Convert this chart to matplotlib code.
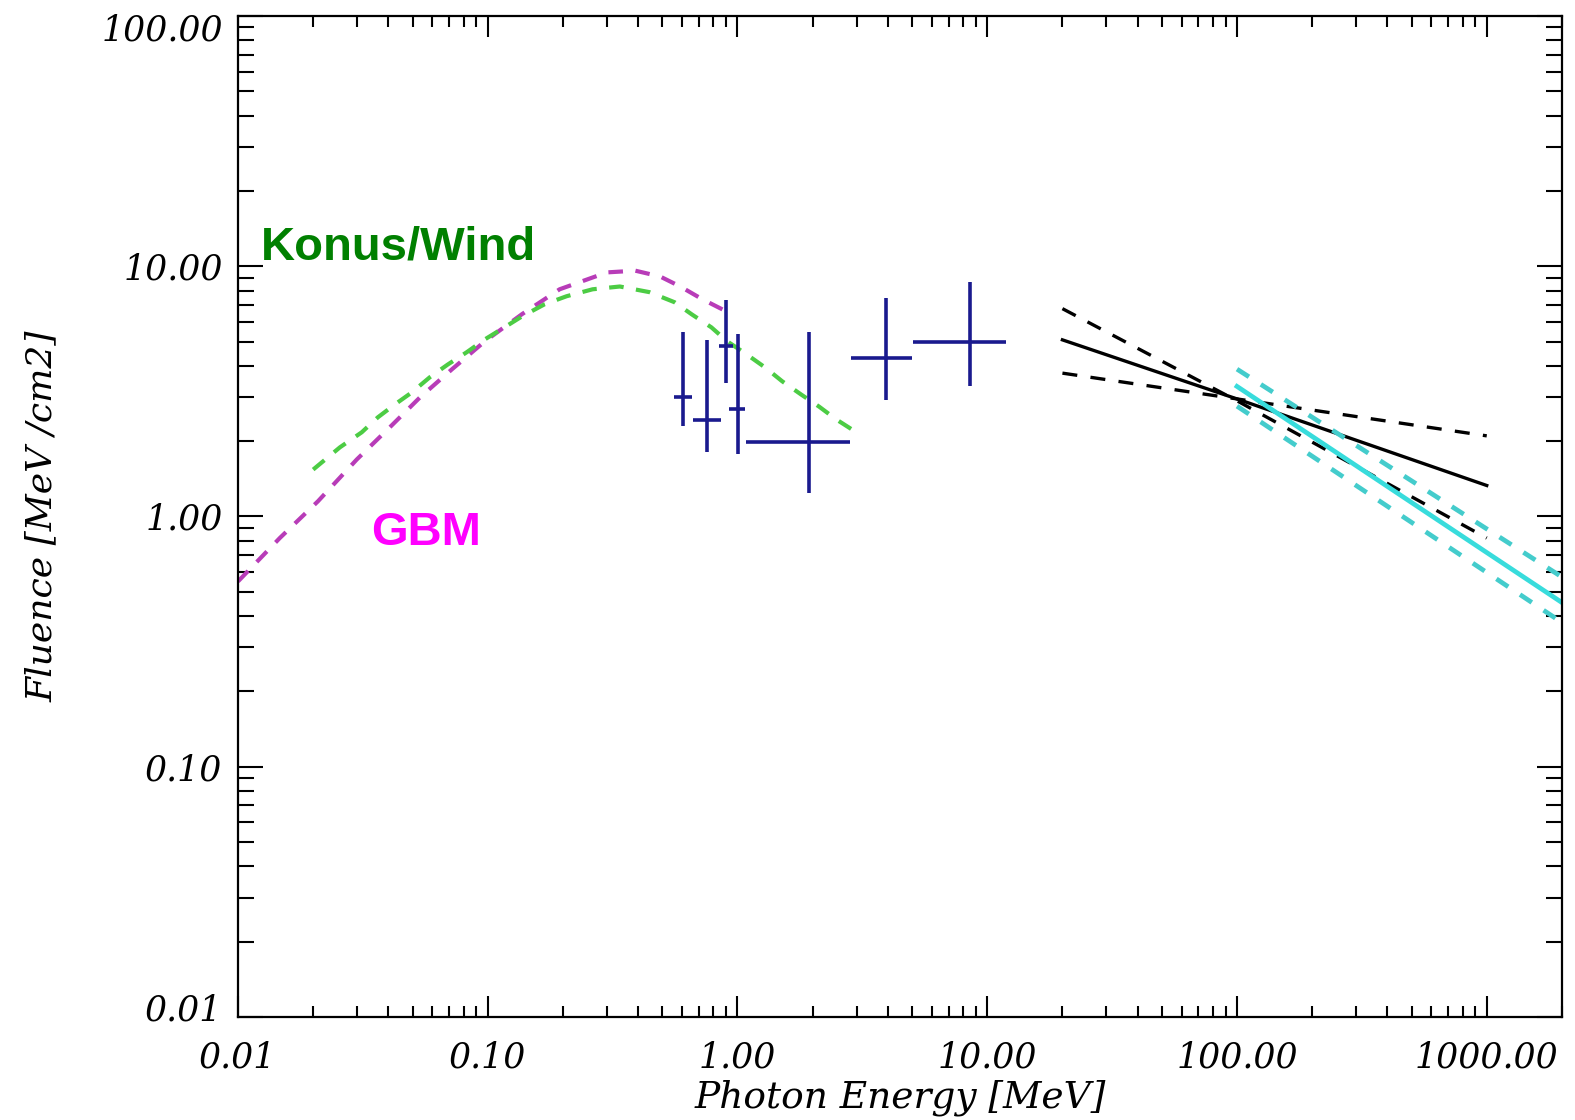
import matplotlib.pyplot as plt
from matplotlib.ticker import FixedLocator, FormatStrFormatter, LogLocator, NullFormatter
from matplotlib.transforms import ScaledTranslation

# GBM Band-function fit (MeV, MeV/cm2)
gbm_energy = [0.01, 0.0147, 0.0209, 0.0299, 0.0405, 0.0535, 0.0718, 0.0973,
              0.137, 0.194, 0.30, 0.39, 0.49, 0.59, 0.72, 0.93]
gbm_fluence = [0.55, 0.82, 1.15, 1.69, 2.27, 2.99, 3.87, 5.01,
               6.43, 8.09, 9.45, 9.6, 9.1, 8.3, 7.4, 6.5]

# Konus/Wind fit
kw_energy = [0.02, 0.0256, 0.0313, 0.0363, 0.0424, 0.0496, 0.0586, 0.0692,
             0.0823, 0.0973, 0.115, 0.137, 0.169, 0.207, 0.263, 0.338,
             0.444, 0.56, 0.655, 0.786, 0.91, 1.09, 1.29, 1.51, 1.80,
             2.12, 2.49, 2.95]
kw_fluence = [1.54, 1.89, 2.17, 2.49, 2.80, 3.13, 3.60, 4.05,
              4.53, 5.10, 5.65, 6.3, 7.05, 7.59, 8.09, 8.3,
              7.88, 7.18, 6.43, 5.70, 5.01, 4.44, 3.94, 3.47, 3.07,
              2.75, 2.44, 2.19]

# binned data points with energy ranges and flux errors
pt_energy = [0.604, 0.754, 0.901, 1.003, 1.94, 3.93, 8.55]
pt_energy_lo = [0.555, 0.663, 0.847, 0.923, 1.077, 2.85, 5.06]
pt_energy_hi = [0.659, 0.861, 0.957, 1.074, 2.82, 5.02, 11.9]
pt_fluence = [3.01, 2.44, 4.80, 2.68, 1.99, 4.31, 5.0]
pt_fluence_lo = [2.30, 1.81, 3.40, 1.77, 1.24, 2.92, 3.32]
pt_fluence_hi = [5.46, 5.07, 7.33, 5.35, 5.46, 7.50, 8.65]

# LAT power law (20 MeV - 1 GeV) with its error envelope
lat_energy = [20, 100, 1000]
lat_fluence = [5.08, 2.95, 1.33]
lat_upper = [6.77, 2.90, 0.82]
lat_lower = [3.74, 2.95, 2.10]

# high-energy power law (100 MeV - 2 GeV) with envelope
he_energy = [100, 2000]
he_fluence = [3.31, 0.453]
he_upper = [3.88, 0.573]
he_lower = [2.76, 0.377]

x_ticks = [0.01, 0.1, 1, 10, 100, 1000]
y_ticks = [0.01, 0.1, 1, 10, 100]

fig = plt.figure(figsize=(15.75, 11.2), dpi=100)
ax = fig.add_axes([0.1511, 0.0920, 0.8406, 0.8937])
ax.set_xscale("log")
ax.set_yscale("log")
ax.set_xlim(0.01, 2000)
ax.set_ylim(0.01, 100)

ax.plot(gbm_energy, gbm_fluence, color="#b83cb8", lw=3, dashes=(3.5, 3))
ax.plot(kw_energy, kw_fluence, color="#4ccc44", lw=3, dashes=(3.5, 3))

ax.errorbar(
    pt_energy, pt_fluence,
    xerr=[[e - lo for e, lo in zip(pt_energy, pt_energy_lo)],
          [hi - e for e, hi in zip(pt_energy, pt_energy_hi)]],
    yerr=[[f - lo for f, lo in zip(pt_fluence, pt_fluence_lo)],
          [hi - f for f, hi in zip(pt_fluence, pt_fluence_hi)]],
    fmt="none", ecolor="#1a1a8e", elinewidth=2.6, capsize=0,
)

ax.plot(lat_energy, lat_fluence, color="black", lw=2.4)
ax.plot(lat_energy, lat_upper, color="black", lw=2.4, dashes=(4.5, 4))
ax.plot(lat_energy, lat_lower, color="black", lw=2.4, dashes=(4.5, 4))

ax.plot(he_energy, he_fluence, color="#38dcdc", lw=3.4)
ax.plot(he_energy, he_upper, color="#44cccc", lw=3.4, dashes=(3, 3))
ax.plot(he_energy, he_lower, color="#44cccc", lw=3.4, dashes=(3, 3))

ax.text(0.0123, 11.9, "Konus/Wind", color="#008000", fontsize=34,
        fontweight="bold", family="Liberation Sans", ha="left", va="center")
ax.text(0.0565, 0.86, "GBM", color="#ff00ff", fontsize=34,
        fontweight="bold", family="Liberation Sans", ha="center", va="center")

# IDL-style axes: inward ticks on all four sides
ax.xaxis.set_major_locator(FixedLocator(x_ticks))
ax.yaxis.set_major_locator(FixedLocator(y_ticks))
for axis in (ax.xaxis, ax.yaxis):
    axis.set_major_formatter(FormatStrFormatter("%.2f"))
    axis.set_minor_locator(LogLocator(base=10, subs=range(2, 10)))
    axis.set_minor_formatter(NullFormatter())

ax.tick_params(which="both", direction="in", top=True, right=True, width=1.5)
ax.tick_params(axis="x", which="major", length=15, pad=17)
ax.tick_params(axis="x", which="minor", length=8)
ax.tick_params(axis="y", which="major", length=18, pad=11)
ax.tick_params(axis="y", which="minor", length=11.5)
for lab in ax.get_xticklabels() + ax.get_yticklabels():
    lab.set_family("DejaVu Serif")
    lab.set_style("italic")
    lab.set_fontsize(25)

# end labels of the y axis sit inside the frame
ytk = ax.yaxis.get_major_ticks()
ytk[0].label1.set_transform(ytk[0].label1.get_transform()
                            + ScaledTranslation(0, 0.10, fig.dpi_scale_trans))
ytk[-1].label1.set_transform(ytk[-1].label1.get_transform()
                             + ScaledTranslation(0, -0.11, fig.dpi_scale_trans))

for sp in ax.spines.values():
    sp.set_linewidth(1.6)

fig.text(0.5714, 0.0196, "Photon Energy [MeV]", family="DejaVu Serif",
         style="italic", fontsize=27, ha="center", va="center")
fig.text(0.0267, 0.539, "Fluence [MeV /cm2]", family="DejaVu Serif",
         style="italic", fontsize=26, ha="center", va="center", rotation=90)

fig.savefig("out.png", dpi=100)
